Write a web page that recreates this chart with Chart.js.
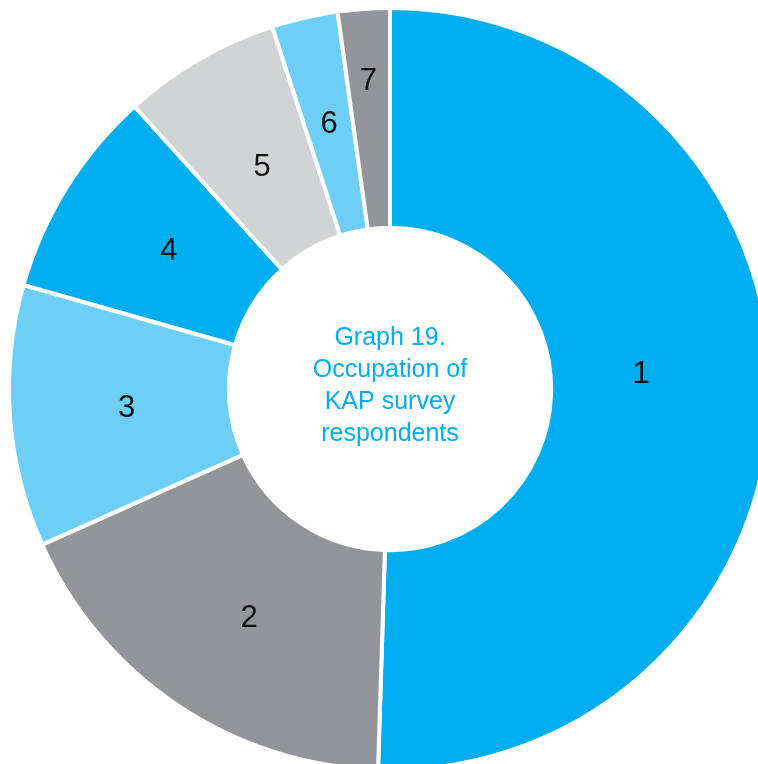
<!DOCTYPE html>
<html>
<head>
<meta charset="utf-8">
<title>Occupation of KAP survey respondents</title>
<script src="https://cdn.jsdelivr.net/npm/chart.js@4.4.1/dist/chart.umd.min.js"></script>
<style>
  html, body { margin: 0; padding: 0; background: #fff; overflow: hidden; }
  #wrap { position: absolute; left: 0; top: 0; width: 780px; height: 778px; }
</style>
</head>
<body>
<div id="wrap"><canvas id="chartOcupacion" width="780" height="778"></canvas></div>
<script>
// === DATA ===
const categorias = ["1", "2", "3", "4", "5", "6", "7"];
const porcentajes = [50.5, 17.8, 11.1, 8.9, 6.7, 2.8, 2.2];
const colores = ["#00AEEF", "#939598", "#6DCFF6", "#00AEEF", "#D1D3D4", "#6DCFF6", "#939598"];
const titulo = ["Graph 19.", "Occupation of", "KAP survey", "respondents"];

// nudges for the slice numbers, in px from the middle of each slice
const ajusteEtiquetas = [[-20, -19], [10, 4], [7, 0], [9, 6], [8, 13], [0, 0], [-3, -37]];

// === NUMBERS ON THE SLICES + TEXT IN THE HOLE ===
const rotulos = {
  id: "rotulos",
  afterDatasetsDraw(chart) {
    const ctx = chart.ctx;
    const arcs = chart.getDatasetMeta(0).data;
    ctx.save();
    ctx.textAlign = "center";
    ctx.textBaseline = "middle";

    ctx.fillStyle = "#111";
    ctx.font = "31px 'Liberation Sans', Arial, sans-serif";
    arcs.forEach((arc, i) => {
      const p = arc.getProps(["x", "y", "startAngle", "endAngle", "innerRadius", "outerRadius"], true);
      const ang = (p.startAngle + p.endAngle) / 2;
      const r = (p.innerRadius + p.outerRadius) / 2;
      const [dx, dy] = ajusteEtiquetas[i];
      ctx.fillText(categorias[i], p.x + Math.cos(ang) * r + dx, p.y + Math.sin(ang) * r + dy);
    });

    // title inside the doughnut
    const cx = arcs[0].x;
    const cy = arcs[0].y - 3;
    const lh = 32;
    ctx.fillStyle = "#00AEEF";
    ctx.font = "25px 'Liberation Sans', Arial, sans-serif";
    titulo.forEach((linea, i) => {
      ctx.fillText(linea, cx, cy + (i - (titulo.length - 1) / 2) * lh);
    });
    ctx.restore();
  }
};

// === CHART ===
new Chart(document.getElementById("chartOcupacion"), {
  type: "doughnut",
  data: {
    labels: categorias,
    datasets: [{
      data: porcentajes,
      backgroundColor: colores,
      borderColor: "#fff",
      borderWidth: 4,
      hoverBorderWidth: 4,
      hoverOffset: 0
    }]
  },
  options: {
    responsive: false,
    animation: false,
    events: [],
    cutout: "42.3%",
    layout: { padding: { left: 7, right: 7, top: 6, bottom: 6 } },
    plugins: {
      legend: { display: false },
      tooltip: { enabled: false }
    }
  },
  plugins: [rotulos]
});
</script>
</body>
</html>
